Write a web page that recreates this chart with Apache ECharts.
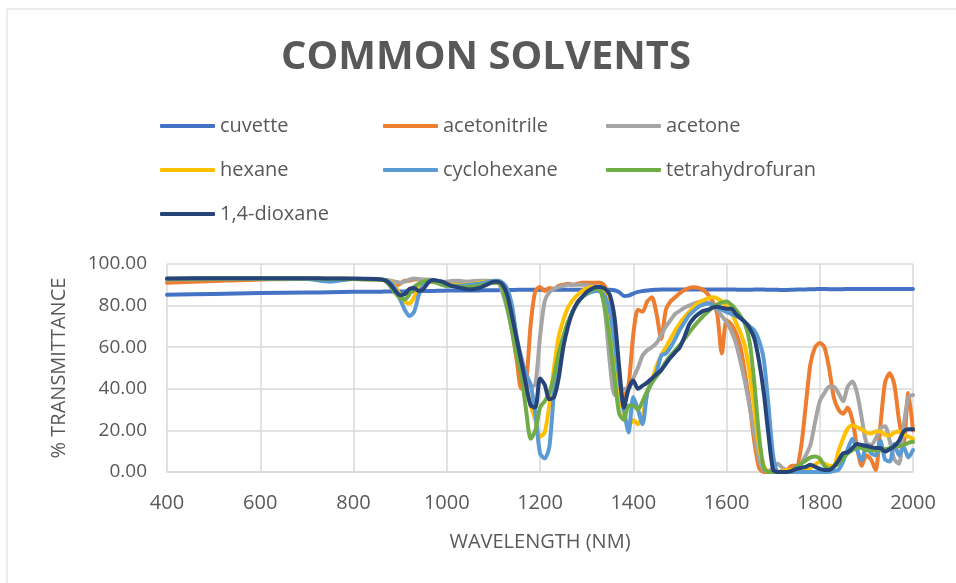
<!DOCTYPE html>
<html>
<head>
<meta charset="utf-8">
<script src="https://cdn.jsdelivr.net/npm/echarts@6/dist/echarts.min.js"></script>
<style>
  html, body { margin: 0; padding: 0; background: #ffffff; }
  #chart { width: 956px; height: 583px; }
</style>
</head>
<body>
<div id="chart"></div>
<script>
// Wavelength sampling grid (nm)
const wavelengths = [
  400, 500, 600, 700, 750, 800, 850,
  860, 870, 880, 890,
  900, 910, 920, 930, 940, 950, 960, 970, 980, 990,
  1000, 1010, 1020, 1030, 1040, 1050, 1060, 1070, 1080, 1090,
  1100, 1110, 1120, 1130, 1140, 1150, 1160, 1170, 1180, 1190,
  1200, 1210, 1220, 1230, 1240, 1250, 1260, 1270, 1280, 1290,
  1300, 1310, 1320, 1330, 1340, 1350, 1360, 1370, 1380, 1390,
  1400, 1410, 1420, 1430, 1440, 1450, 1460, 1470, 1480, 1490,
  1500, 1510, 1520, 1530, 1540, 1550, 1560, 1570, 1580, 1590,
  1600, 1610, 1620, 1630, 1640, 1650, 1660, 1670, 1680, 1690,
  1700, 1710, 1720, 1730, 1740, 1750, 1760, 1770, 1780, 1790,
  1800, 1810, 1820, 1830, 1840, 1850, 1860, 1870, 1880, 1890,
  1900, 1910, 1920, 1930, 1940, 1950, 1960, 1970, 1980, 1990,
  2000
];

// % transmittance per solvent, aligned with wavelengths
const cuvette = [
  85.2, 85.6, 86.0, 86.3, 86.4, 86.6, 86.7,
  86.7, 86.8, 86.8, 86.8,
  86.8, 86.8, 86.9, 86.9, 87.0, 87.0, 87.0, 87.0, 87.1, 87.1,
  87.2, 87.2, 87.2, 87.3, 87.3, 87.3, 87.3, 87.3, 87.4, 87.4,
  87.4, 87.4, 87.5, 87.5, 87.5, 87.6, 87.6, 87.6, 87.6, 87.6,
  87.6, 87.6, 87.6, 87.6, 87.6, 87.6, 87.6, 87.6, 87.6, 87.6,
  87.6, 87.6, 87.6, 87.6, 87.6, 87.6, 87.4, 86.5, 84.6, 84.8,
  85.8, 86.6, 87.0, 87.3, 87.5, 87.6, 87.7, 87.7, 87.7, 87.8,
  87.8, 87.8, 87.8, 87.8, 87.8, 87.8, 87.8, 87.8, 87.8, 87.8,
  87.8, 87.8, 87.7, 87.6, 87.6, 87.6, 87.7, 87.7, 87.7, 87.6,
  87.6, 87.6, 87.5, 87.5, 87.6, 87.7, 87.8, 87.8, 87.9, 87.9,
  88.0, 88.0, 87.9, 87.9, 87.9, 87.9, 88.0, 88.0, 88.0, 88.0,
  88.0, 88.0, 88.0, 88.0, 88.0, 88.0, 88.0, 88.0, 88.0, 88.0,
  88.0
];
const acetonitrile = [
  91.0, 91.8, 92.6, 92.8, 92.8, 92.8, 92.6,
  92.5, 92.0, 91.0, 89.5,
  90.5, 92.0, 92.0, 92.5, 92.5, 92.2, 92.0, 91.5, 91.0, 90.5,
  90.0, 91.5, 91.8, 91.0, 91.5, 91.5, 91.8, 91.5, 91.5, 91.5,
  91.2, 90.8, 89.0, 80.0, 68.0, 54.0, 40.0, 43.0, 71.0, 87.0,
  89.0, 87.0, 88.5, 88.0, 89.5, 90.0, 90.5, 90.0, 90.5, 91.0,
  91.0, 91.0, 91.0, 91.0, 89.0, 82.0, 50.0, 35.0, 36.0, 42.0,
  66.0, 78.0, 77.0, 82.0, 84.0, 76.0, 64.0, 78.0, 82.0, 84.0,
  86.0, 87.5, 88.5, 88.8, 88.5, 87.5, 85.5, 82.0, 76.0, 57.0,
  73.0, 71.0, 67.0, 60.0, 47.0, 32.0, 14.0, 2.0, 0.0, 0.0,
  0.0, 0.0, 0.5, 1.0, 3.0, 3.0, 12.0, 32.0, 52.0, 60.0,
  62.0, 60.0, 50.0, 36.0, 30.0, 28.0, 31.0, 25.0, 12.0, 3.0,
  8.0, 6.0, 1.0, 22.0, 43.0, 47.5, 42.0, 25.0, 14.0, 38.0,
  20.0
];
const acetone = [
  92.5, 92.8, 93.0, 93.0, 92.9, 92.8, 92.7,
  92.5, 92.3, 92.0, 91.5,
  91.0, 91.5, 92.5, 93.0, 92.8, 92.5, 92.5, 92.3, 92.0, 91.5,
  91.5, 91.8, 92.0, 91.8, 91.5, 91.5, 91.8, 92.0, 92.0, 92.0,
  91.8, 91.5, 86.0, 78.0, 68.0, 57.0, 50.0, 45.0, 41.0, 42.0,
  65.0, 82.0, 86.5, 88.0, 89.0, 89.5, 90.0, 90.0, 90.0, 90.0,
  89.8, 89.5, 89.0, 88.0, 76.0, 52.0, 37.0, 38.0, 40.0, 40.0,
  45.0, 50.0, 56.0, 58.5, 60.0, 62.0, 66.0, 70.0, 73.0, 76.0,
  77.5, 79.0, 80.0, 81.0, 81.8, 82.0, 81.5, 80.0, 78.0, 75.0,
  72.0, 68.0, 62.0, 53.0, 43.0, 31.0, 18.0, 6.0, 1.0, 0.5,
  2.0, 4.0, 2.0, 1.0, 1.0, 2.0, 4.0, 8.0, 13.0, 24.0,
  34.0, 38.0, 41.0, 41.0, 38.0, 34.0, 41.0, 43.5, 38.0, 26.0,
  14.0, 13.0, 16.0, 21.0, 22.0, 15.0, 6.0, 4.0, 22.0, 36.0,
  37.0
];
const hexane = [
  92.8, 93.0, 93.0, 93.0, 92.9, 92.8, 92.6,
  92.5, 92.0, 91.5, 89.0,
  85.0, 82.0, 81.0, 84.0, 89.0, 91.5, 92.0, 91.5, 91.0, 90.5,
  90.0, 90.0, 90.0, 89.8, 90.0, 90.3, 90.5, 91.0, 91.5, 91.5,
  92.0, 92.0, 90.0, 83.0, 74.0, 60.0, 50.0, 41.0, 32.0, 25.0,
  17.0, 19.0, 32.0, 50.0, 65.0, 73.0, 79.0, 82.5, 85.0, 87.0,
  88.3, 89.0, 89.0, 88.5, 86.0, 74.0, 55.0, 38.0, 28.0, 22.0,
  25.0, 23.0, 27.0, 38.0, 44.0, 51.0, 56.0, 60.0, 64.0, 68.0,
  71.5, 74.5, 77.0, 79.5, 81.5, 82.5, 83.5, 84.0, 83.5, 82.0,
  80.0, 77.0, 72.0, 67.0, 60.0, 47.0, 30.0, 12.0, 3.0, 0.0,
  0.0, 0.0, 0.5, 1.0, 1.0, 1.0, 1.5, 1.5, 2.0, 3.5,
  5.0, 4.0, 3.0, 3.0, 10.0, 16.0, 21.0, 22.5, 21.5, 20.5,
  19.0, 18.5, 19.5, 19.5, 18.0, 17.5, 19.0, 19.5, 18.0, 17.0,
  16.0
];
const cyclohexane = [
  92.8, 93.0, 93.0, 92.8, 91.5, 92.8, 92.6,
  92.5, 92.0, 91.0, 88.0,
  83.0, 78.0, 75.0, 77.0, 85.0, 90.0, 92.0, 92.0, 91.0, 90.0,
  89.5, 89.5, 89.5, 89.5, 89.8, 90.0, 90.3, 90.5, 91.0, 91.5,
  91.8, 92.0, 91.0, 88.0, 80.0, 65.0, 55.0, 47.0, 42.0, 28.0,
  9.0, 6.5, 12.0, 38.0, 55.0, 65.0, 72.0, 77.0, 81.0, 84.0,
  85.5, 86.5, 87.0, 86.7, 84.0, 77.0, 62.0, 45.0, 30.0, 19.0,
  36.0, 30.0, 23.0, 38.0, 43.0, 48.0, 56.0, 57.0, 60.0, 64.0,
  68.5, 72.0, 75.5, 77.5, 79.5, 80.5, 81.0, 80.5, 79.0, 78.0,
  77.0, 76.0, 75.0, 74.0, 72.0, 70.0, 68.0, 63.0, 54.0, 32.0,
  8.0, 0.0, 0.0, 0.0, 0.0, 0.0, 0.0, 0.0, 0.0, 0.0,
  0.0, 0.0, 0.0, 0.5, 1.0, 5.0, 11.0, 16.0, 10.5, 5.5,
  13.0, 9.0, 8.0, 15.0, 6.0, 5.0, 13.5, 8.0, 12.0, 7.0,
  10.5
];
const tetrahydrofuran = [
  92.8, 93.0, 93.0, 93.0, 92.9, 92.8, 92.6,
  92.5, 91.5, 89.0, 86.0,
  83.5, 83.0, 85.5, 89.0, 90.5, 91.5, 91.8, 91.5, 91.0, 90.0,
  89.5, 89.5, 89.2, 89.0, 89.0, 89.0, 89.2, 89.5, 90.0, 90.5,
  91.0, 91.0, 88.0, 79.0, 68.0, 56.0, 47.0, 30.0, 16.0, 20.0,
  31.0, 34.0, 38.0, 46.0, 57.0, 65.0, 72.0, 77.0, 81.0, 84.0,
  86.0, 87.5, 88.0, 87.0, 78.0, 63.0, 45.0, 28.0, 25.0, 32.0,
  32.0, 30.0, 34.0, 39.0, 43.0, 46.0, 49.0, 53.0, 56.0, 58.5,
  61.0, 64.0, 67.0, 70.0, 72.5, 75.0, 77.0, 79.0, 80.5, 81.5,
  82.0, 80.5, 78.0, 75.0, 71.0, 62.0, 42.0, 17.0, 2.0, 0.0,
  0.0, 0.0, 0.0, 0.0, 0.5, 2.5, 4.0, 5.5, 7.0, 7.5,
  6.5, 3.0, 1.5, 2.5, 4.0, 6.5, 9.0, 10.5, 12.0, 11.5,
  10.5, 10.5, 10.5, 10.5, 11.0, 11.5, 12.0, 12.5, 13.0, 14.0,
  14.5
];
const dioxane = [
  93.0, 93.2, 93.2, 93.2, 93.0, 93.0, 92.8,
  92.5, 92.0, 90.0, 87.0,
  85.0, 85.5, 88.0, 88.5, 87.0, 88.0, 91.0, 92.3, 92.0, 91.5,
  90.5, 89.5, 89.0, 88.5, 88.0, 87.8, 88.0, 88.5, 89.5, 90.5,
  91.5, 91.5, 90.0, 85.0, 75.0, 64.0, 53.0, 42.0, 32.0, 31.0,
  45.0, 42.0, 35.0, 36.0, 45.0, 60.0, 70.0, 77.0, 81.5, 84.0,
  86.5, 88.0, 89.0, 89.0, 88.0, 85.0, 74.0, 50.0, 31.0, 40.0,
  44.0, 40.0, 41.5, 43.0, 45.0, 47.0, 49.0, 52.0, 55.0, 57.5,
  60.0, 65.0, 71.0, 74.0, 76.0, 77.5, 78.0, 79.0, 79.5, 79.0,
  78.5, 78.5, 76.0, 74.0, 72.0, 69.0, 64.0, 53.0, 38.0, 18.0,
  1.0, 0.0, 0.0, 0.0, 0.5, 1.5, 2.0, 2.5, 3.5, 2.5,
  1.5, 1.0, 1.0, 2.5, 5.5, 9.0, 9.5, 11.5, 13.5, 13.0,
  12.5, 12.0, 11.5, 11.5, 9.8, 11.0, 12.5, 15.0, 19.5, 20.5,
  20.5
];

const seriesNames = ['cuvette', 'acetonitrile', 'acetone', 'hexane', 'cyclohexane', 'tetrahydrofuran', '1,4-dioxane'];
const seriesValues = [cuvette, acetonitrile, acetone, hexane, cyclohexane, tetrahydrofuran, dioxane];
const seriesColors = ['#4472C4', '#ED7D31', '#A5A5A5', '#FFC000', '#5B9BD5', '#70AD47', '#264478'];

const FONT = 'Open Sans';
const TEXT = '#595959';
const GRID = '#d9d9d9';

const chart = echarts.init(document.getElementById('chart'), null, { renderer: 'canvas' });

const legendBase = {
  orient: 'vertical',
  icon: 'roundRect',
  padding: 0,
  itemWidth: 55,
  itemHeight: 4,
  itemGap: 20,
  textStyle: { fontFamily: FONT, fontSize: 20, color: TEXT, lineHeight: 24 }
};

chart.setOption({
  backgroundColor: '#ffffff',
  animation: false,
  graphic: [
    {
      type: 'rect',
      shape: { x: 7, y: 9, width: 980, height: 620 },
      style: { fill: 'none', stroke: GRID, lineWidth: 1 },
      silent: true
    },
    {
      type: 'text',
      x: 486, y: 58,
      style: {
        text: 'COMMON SOLVENTS',
        fontFamily: FONT, fontWeight: 'bold', fontSize: 40,
        fill: TEXT, align: 'center', verticalAlign: 'middle'
      }
    }
  ],
  legend: [
    Object.assign({ left: 160, top: 114, data: ['cuvette', 'hexane', '1,4-dioxane'] }, legendBase),
    Object.assign({ left: 383, top: 114, data: ['acetonitrile', 'cyclohexane'] }, legendBase),
    Object.assign({ left: 606, top: 114, data: ['acetone', 'tetrahydrofuran'] }, legendBase)
  ],
  grid: { left: 167, right: 43, top: 264, bottom: 111, containLabel: false },
  xAxis: {
    type: 'value', min: 400, max: 2000, interval: 200,
    name: 'WAVELENGTH (NM)', nameLocation: 'middle', nameGap: 60,
    nameTextStyle: { fontFamily: FONT, fontSize: 20, color: TEXT },
    axisLine: { show: true, lineStyle: { color: GRID, width: 1.5 } },
    axisTick: { show: false },
    axisLabel: { fontFamily: FONT, fontSize: 20, color: TEXT, margin: 21,
      formatter: v => String(v) },
    splitLine: { show: true, lineStyle: { color: GRID, width: 1.5 } }
  },
  yAxis: {
    type: 'value', min: 0, max: 100, interval: 20,
    name: '% TRANSMITTANCE', nameLocation: 'middle', nameGap: 98, nameRotate: 90,
    nameTextStyle: { fontFamily: FONT, fontSize: 20, color: TEXT },
    axisLine: { show: false },
    axisTick: { show: false },
    axisLabel: { fontFamily: FONT, fontSize: 19, color: TEXT, margin: 20,
      formatter: v => v.toFixed(2) },
    splitLine: { show: true, lineStyle: { color: GRID, width: 1.5 } }
  },
  series: seriesNames.map((name, i) => ({
    name,
    type: 'line',
    data: wavelengths.map((w, k) => [w, seriesValues[i][k]]),
    showSymbol: false,
    symbol: 'none',
    smooth: 0.25,
    color: seriesColors[i],
    lineStyle: { width: 4, color: seriesColors[i], cap: 'round', join: 'round' },
    emphasis: { disabled: true }
  }))
});
</script>
</body>
</html>
